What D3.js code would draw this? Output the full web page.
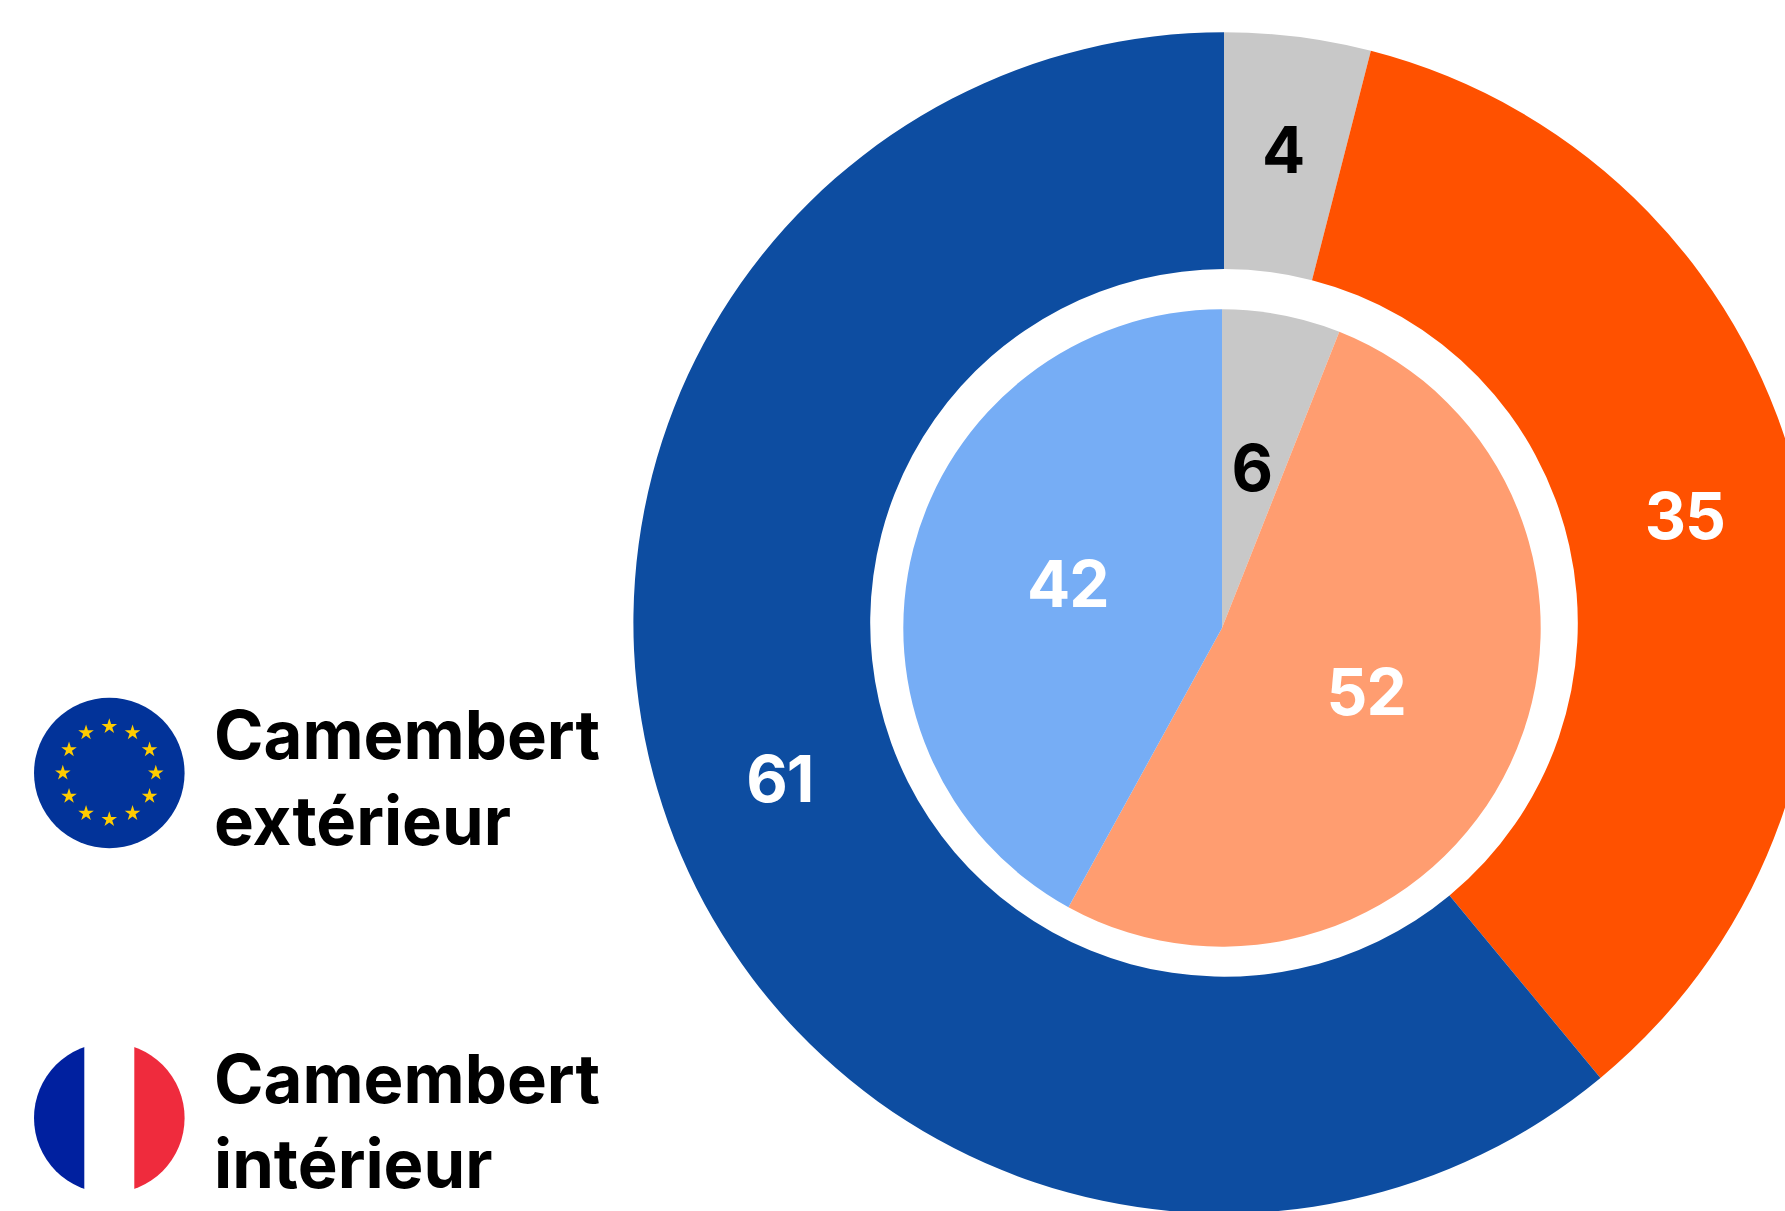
<!DOCTYPE html>
<html><head><meta charset="utf-8">
<script src="https://cdn.jsdelivr.net/npm/d3@7"></script>
<style>html,body{margin:0;padding:0;background:#fff;overflow:hidden}svg{display:block}
text{font-family:Inter,sans-serif;font-weight:700}</style></head>
<body><svg id="c" width="1785" height="1211"></svg>
<script>
const outerCategories = ["Autres", "Droite", "Gauche"];
const outerValues = [4, 35, 61];
const outerColors = ["#C8C8C8", "#FF5100", "#0D4DA1"];
const outerTextColors = ["#000", "#fff", "#fff"];
const innerCategories = ["Autres", "Droite", "Gauche"];
const innerValues = [6, 52, 42];
const innerColors = ["#C8C8C8", "#FF9D70", "#76ADF5"];
const innerTextColors = ["#000", "#fff", "#fff"];
const legendLines = [["Camembert", "extérieur"], ["Camembert", "intérieur"]];

const svg = d3.select("#c");
const pie = d3.pie().sort(null);

function ring(cx, cy, r0, r1, values, colors, textColors, fs) {
  const g = svg.append("g").attr("transform", `translate(${cx},${cy})`);
  const arc = d3.arc().innerRadius(r0).outerRadius(r1);
  const arcs = pie(values);
  g.selectAll("path").data(arcs).join("path").attr("d", arc).attr("fill", (d, i) => colors[i]);
  g.selectAll("text").data(arcs).join("text")
    .attr("x", d => arc.centroid(d)[0])
    .attr("y", d => arc.centroid(d)[1] - 4)
    .attr("dy", "0.36em").attr("text-anchor", "middle")
    .attr("font-size", fs).attr("font-weight", 800).attr("letter-spacing", -1)
    .attr("fill", (d, i) => textColors[i]).text(d => d.data);
}
ring(1224, 622.9, 353.8, 590.6, outerValues, outerColors, outerTextColors, 64);
ring(1222, 628, 0, 318.7, innerValues, innerColors, innerTextColors, 64);

// EU flag
const eu = svg.append("g").attr("transform", "translate(109.3,773)");
eu.append("circle").attr("r", 75.3).attr("fill", "#023399");
const star = d3.symbol().type(d3.symbolStar).size(75);
eu.selectAll("path").data(d3.range(12)).join("path")
  .attr("d", star).attr("fill", "#FFCC00")
  .attr("transform", d => {
    const a = d / 12 * 2 * Math.PI;
    return `translate(${46.5 * Math.sin(a)},${-46.5 * Math.cos(a)})`;
  });

// French flag
const defs = svg.append("defs");
defs.append("clipPath").attr("id", "fr").append("circle").attr("r", 75.3);
const fr = svg.append("g").attr("transform", "translate(109.3,1118)").append("g").attr("clip-path", "url(#fr)");
fr.append("rect").attr("x", -76).attr("y", -76).attr("width", 51).attr("height", 152).attr("fill", "#00209F");
fr.append("rect").attr("x", 25).attr("y", -76).attr("width", 51).attr("height", 152).attr("fill", "#EF2B3D");

// Legend text
const baselines = [[759, 845], [1103, 1188]];
legendLines.forEach((lines, i) => lines.forEach((t, j) => {
  svg.append("text").attr("x", 214).attr("y", baselines[i][j])
    .attr("font-size", 67).attr("fill", "#000").text(t);
}));
</script></body></html>
